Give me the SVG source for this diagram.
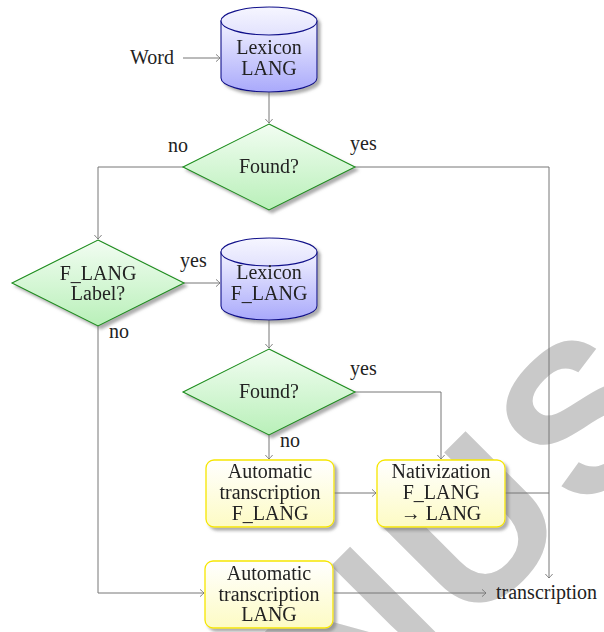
<svg xmlns="http://www.w3.org/2000/svg" width="604" height="632" viewBox="0 0 604 632">
<defs>
<linearGradient id="gCyl" x1="0" y1="0" x2="0" y2="1">
<stop offset="0" stop-color="#f2f2ff"/><stop offset="1" stop-color="#a9a9fb"/>
</linearGradient>
<linearGradient id="gCylTop" x1="0" y1="0" x2="0" y2="1">
<stop offset="0" stop-color="#f6f6ff"/><stop offset="1" stop-color="#e2e2fd"/>
</linearGradient>
<linearGradient id="gDia" x1="0" y1="0" x2="0" y2="1">
<stop offset="0" stop-color="#f2fdf2"/><stop offset="1" stop-color="#b9f0b9"/>
</linearGradient>
<linearGradient id="gBox" x1="0" y1="0" x2="0" y2="1">
<stop offset="0" stop-color="#ffffff"/><stop offset="1" stop-color="#fdfbc4"/>
</linearGradient>
<filter id="sh" x="-20%" y="-20%" width="150%" height="150%">
<feDropShadow dx="3" dy="3" stdDeviation="1.6" flood-color="#777" flood-opacity="0.6"/>
</filter>
<marker id="ar" viewBox="-6 -5 8 10" refX="0" refY="0" markerWidth="8" markerHeight="10" markerUnits="userSpaceOnUse" orient="auto">
<path d="M-4,-3.6 Q-0.8,-1 0,0 Q-0.8,1 -4,3.6" fill="none" stroke="#777" stroke-width="0.9"/>
</marker>
</defs>
<style>
text{font-family:"Liberation Serif","Times New Roman",serif;font-size:20px;fill:#222}
.c{text-anchor:middle}
.wm{font-family:"Liberation Sans",Arial,sans-serif;font-weight:bold;font-size:210px;letter-spacing:10px;fill:#c9c9c9}
.cyl{fill:url(#gCyl);stroke:#10108a;stroke-width:1.1}
.cylt{fill:url(#gCylTop);stroke:#10108a;stroke-width:1.1}
.dia{fill:url(#gDia);stroke:#1a8c1a;stroke-width:1.1}
.box{fill:url(#gBox);stroke:#f6e600;stroke-width:1.3}
.ln{fill:none;stroke:#777;stroke-width:1}
</style>
<rect width="604" height="632" fill="#fff"/>
<g id="watermark">
<text class="wm" transform="translate(110,991) rotate(-45)">MANUSCRIPT</text>
</g>
<g id="connectors">
<path class="ln" d="M183,58 H220" marker-end="url(#ar)"/>
<path class="ln" d="M269,92 V123" marker-end="url(#ar)"/>
<path class="ln" d="M183,167 H98 V239" marker-end="url(#ar)"/>
<path class="ln" d="M355,167 H549 V578" marker-end="url(#ar)"/>
<path class="ln" d="M184,283 H220" marker-end="url(#ar)"/>
<path class="ln" d="M98,326 V593 H204" marker-end="url(#ar)"/>
<path class="ln" d="M269,320 V348" marker-end="url(#ar)"/>
<path class="ln" d="M355,392 H441 V459" marker-end="url(#ar)"/>
<path class="ln" d="M269,435 V459" marker-end="url(#ar)"/>
<path class="ln" d="M334,493 H376" marker-end="url(#ar)"/>
<path class="ln" d="M505,493 H549"/>
<path class="ln" d="M333,593 H486" marker-end="url(#ar)"/>
<text x="168" y="152">no</text>
<text x="350" y="150">yes</text>
<text x="180" y="267">yes</text>
<text x="109" y="338">no</text>
<text x="350" y="375">yes</text>
<text x="280" y="447">no</text>
</g>
<g id="word"><text x="130" y="64">Word</text></g>
<g id="lexicon-lang" filter="url(#sh)">
<path class="cyl" d="M221,21 V78 A48,14 0 0 0 317,78 V21 Z"/>
<ellipse class="cylt" cx="269" cy="21" rx="48" ry="14"/>
<text class="c" x="269" y="54">Lexicon</text>
<text class="c" x="269" y="75">LANG</text>
</g>
<g id="found1" filter="url(#sh)">
<polygon class="dia" points="269,124 355,167 269,210 183,167"/>
<text class="c" x="269" y="173">Found?</text>
</g>
<g id="flang-label" filter="url(#sh)">
<polygon class="dia" points="98,240 184,283 98,326 12,283"/>
<text class="c" x="98" y="280">F_LANG</text>
<text class="c" x="98" y="300">Label?</text>
</g>
<g id="lexicon-flang" filter="url(#sh)">
<path class="cyl" d="M221,252 V306 A48,14 0 0 0 317,306 V252 Z"/>
<ellipse class="cylt" cx="269" cy="252" rx="48" ry="14"/>
<text class="c" x="269" y="279">Lexicon</text>
<text class="c" x="269" y="300">F_LANG</text>
</g>
<g id="found2" filter="url(#sh)">
<polygon class="dia" points="269,349 355,392 269,435 183,392"/>
<text class="c" x="269" y="398">Found?</text>
</g>
<g id="auto-flang" filter="url(#sh)">
<rect class="box" x="206" y="460" width="128" height="67" rx="8"/>
<text class="c" x="270" y="478">Automatic</text>
<text class="c" x="270" y="499">transcription</text>
<text class="c" x="270" y="520">F_LANG</text>
</g>
<g id="nativization" filter="url(#sh)">
<rect class="box" x="377" y="460" width="128" height="67" rx="8"/>
<text class="c" x="441" y="478">Nativization</text>
<text class="c" x="441" y="499">F_LANG</text>
<text class="c" x="441" y="520">→ LANG</text>
</g>
<g id="auto-lang" filter="url(#sh)">
<rect class="box" x="205" y="561" width="128" height="67" rx="8"/>
<text class="c" x="269" y="580">Automatic</text>
<text class="c" x="269" y="601">transcription</text>
<text class="c" x="269" y="621">LANG</text>
</g>
<g id="transcription"><text x="496" y="599">transcription</text></g>
</svg>
